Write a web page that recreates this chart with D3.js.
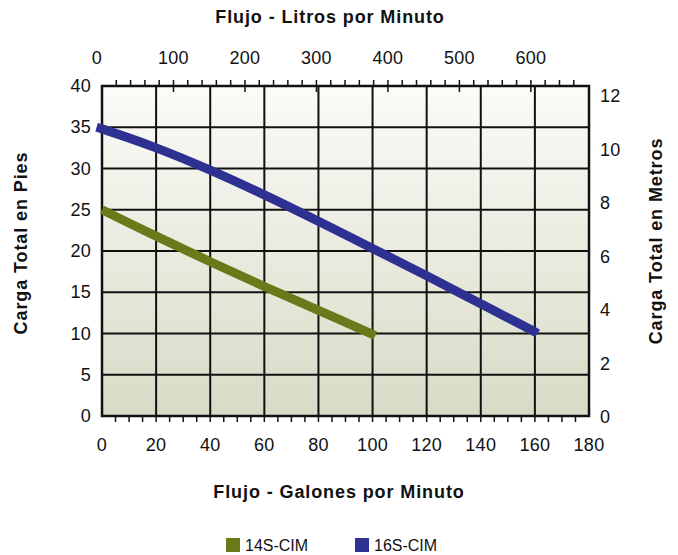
<!DOCTYPE html>
<html><head><meta charset="utf-8">
<script src="https://cdn.jsdelivr.net/npm/d3@7"></script>
<style>body{margin:0;background:#fff}svg{display:block}text{font-family:"Liberation Sans",Arial,Helvetica,sans-serif}</style>
</head><body>
<svg id="c" width="678" height="555"></svg>
<script>
const seriesNames = ["14S-CIM", "16S-CIM"];
const seriesColors = ["#6a7a1a", "#2e3192"];
const gpm14 = [0, 20, 40, 60, 80, 100, 101];
const ft14 = [25, 21.8, 18.7, 15.7, 12.8, 9.9, 9.75];
const gpm16 = [-2, 0, 20, 40, 60, 80, 100, 120, 140, 160, 161];
const ft16 = [35.0, 34.8, 32.5, 29.8, 26.8, 23.6, 20.3, 17.0, 13.6, 10.2, 10.0];
const gpmTicks = [0, 20, 40, 60, 80, 100, 120, 140, 160, 180];
const lpmTicks = [0, 100, 200, 300, 400, 500, 600];
const ftTicks = [0, 5, 10, 15, 20, 25, 30, 35, 40];
const mTicks = [0, 2, 4, 6, 8, 10, 12];
const LPM_PER_GPM = 3.785;

const svg = d3.select("#c");
const L = 102, R = 589, T = 86, B = 416;
const x = d3.scaleLinear().domain([0, 180]).range([L, R]);
const xl = d3.scaleLinear().domain([0, 180 * LPM_PER_GPM]).range([L, R]);
const y = d3.scaleLinear().domain([0, 40]).range([B, T]);
const ym = d3.scaleLinear().domain([0, 12.35]).range([B, T]);

const defs = svg.append("defs");
const g = defs.append("linearGradient").attr("id", "bg").attr("x1", 0).attr("y1", 0).attr("x2", 0).attr("y2", 1);
g.append("stop").attr("offset", "0%").attr("stop-color", "#fbfbf8");
g.append("stop").attr("offset", "100%").attr("stop-color", "#d8dbc6");
svg.append("rect").attr("x", L).attr("y", T).attr("width", R - L).attr("height", B - T).attr("fill", "url(#bg)");

// grid
svg.append("g").selectAll("line").data(gpmTicks.filter(d => d > 0 && d < 180)).join("line")
  .attr("x1", d => x(d)).attr("x2", d => x(d)).attr("y1", T).attr("y2", B)
  .attr("stroke", "#111").attr("stroke-width", 2);
svg.append("g").selectAll("line").data(ftTicks.filter(d => d > 0 && d < 40)).join("line")
  .attr("y1", d => y(d)).attr("y2", d => y(d)).attr("x1", L).attr("x2", R)
  .attr("stroke", "#111").attr("stroke-width", 2);

// bottom minor ticks (every 5 gpm)
const bottomMinor = d3.range(5, 180, 5);
svg.append("g").selectAll("line").data(bottomMinor).join("line")
  .attr("x1", d => x(d)).attr("x2", d => x(d)).attr("y1", B).attr("y2", B + 6)
  .attr("stroke", "#111").attr("stroke-width", 1.5);
// top minor ticks (every 20 lpm), major at 100s cross border
const topMinor = d3.range(20, 680, 20);
svg.append("g").selectAll("line").data(topMinor).join("line")
  .attr("x1", d => xl(d)).attr("x2", d => xl(d))
  .attr("y1", T - 6)
  .attr("y2", d => d % 100 === 0 ? T + 6 : T)
  .attr("stroke", "#111").attr("stroke-width", 1.5);

// border
svg.append("rect").attr("x", L).attr("y", T).attr("width", R - L).attr("height", B - T)
  .attr("fill", "none").attr("stroke", "#111").attr("stroke-width", 2.5);

// lines
const line = d3.line().x(d => x(d[0])).y(d => y(d[1])).curve(d3.curveCatmullRom);
const data = [d3.zip(gpm14, ft14), d3.zip(gpm16, ft16)];
svg.append("g").selectAll("path").data(data).join("path")
  .attr("d", line).attr("fill", "none")
  .attr("stroke", (d, i) => seriesColors[i]).attr("stroke-width", 9);

// labels
const fs = 18;
const tick = sel => sel.attr("font-size", fs).attr("fill", "#111").attr("letter-spacing", 0.3);
svg.append("g").selectAll("text").data(gpmTicks).join("text")
  .attr("x", d => x(d)).attr("y", B + 35).attr("text-anchor", "middle").call(tick).text(d => d);
svg.append("g").selectAll("text").data(lpmTicks).join("text")
  .attr("x", d => xl(d) - (d === 0 ? 5 : 0)).attr("y", 64).attr("text-anchor", "middle").call(tick).text(d => d);
svg.append("g").selectAll("text").data(ftTicks).join("text")
  .attr("x", 91).attr("y", d => y(d) + 6).attr("text-anchor", "end").call(tick).text(d => d);
svg.append("g").selectAll("text").data(mTicks).join("text")
  .attr("x", 600).attr("y", d => ym(d) + 7).attr("text-anchor", "start").call(tick).text(d => d);

// titles
const title = sel => sel.attr("font-size", 18).attr("font-weight", "bold").attr("fill", "#111")
  .attr("letter-spacing", 0.9).attr("text-anchor", "middle");
svg.append("text").attr("x", 330).attr("y", 23).call(title).text("Flujo - Litros por Minuto");
svg.append("text").attr("x", 339).attr("y", 498).call(title).text("Flujo - Galones por Minuto");
svg.append("text").attr("transform", "translate(27,243) rotate(-90)").call(title).text("Carga Total en Pies");
svg.append("text").attr("transform", "translate(662,241) rotate(-90)").call(title).text("Carga Total en Metros");

// legend
const leg = svg.append("g").selectAll("g").data(seriesNames).join("g")
  .attr("transform", (d, i) => `translate(${226 + i * 129},538)`);
leg.append("rect").attr("width", 14).attr("height", 14).attr("fill", (d, i) => seriesColors[i]);
leg.append("text").attr("x", 19).attr("y", 13).attr("font-size", 16).attr("fill", "#111").text(d => d);
</script>
</body></html>
